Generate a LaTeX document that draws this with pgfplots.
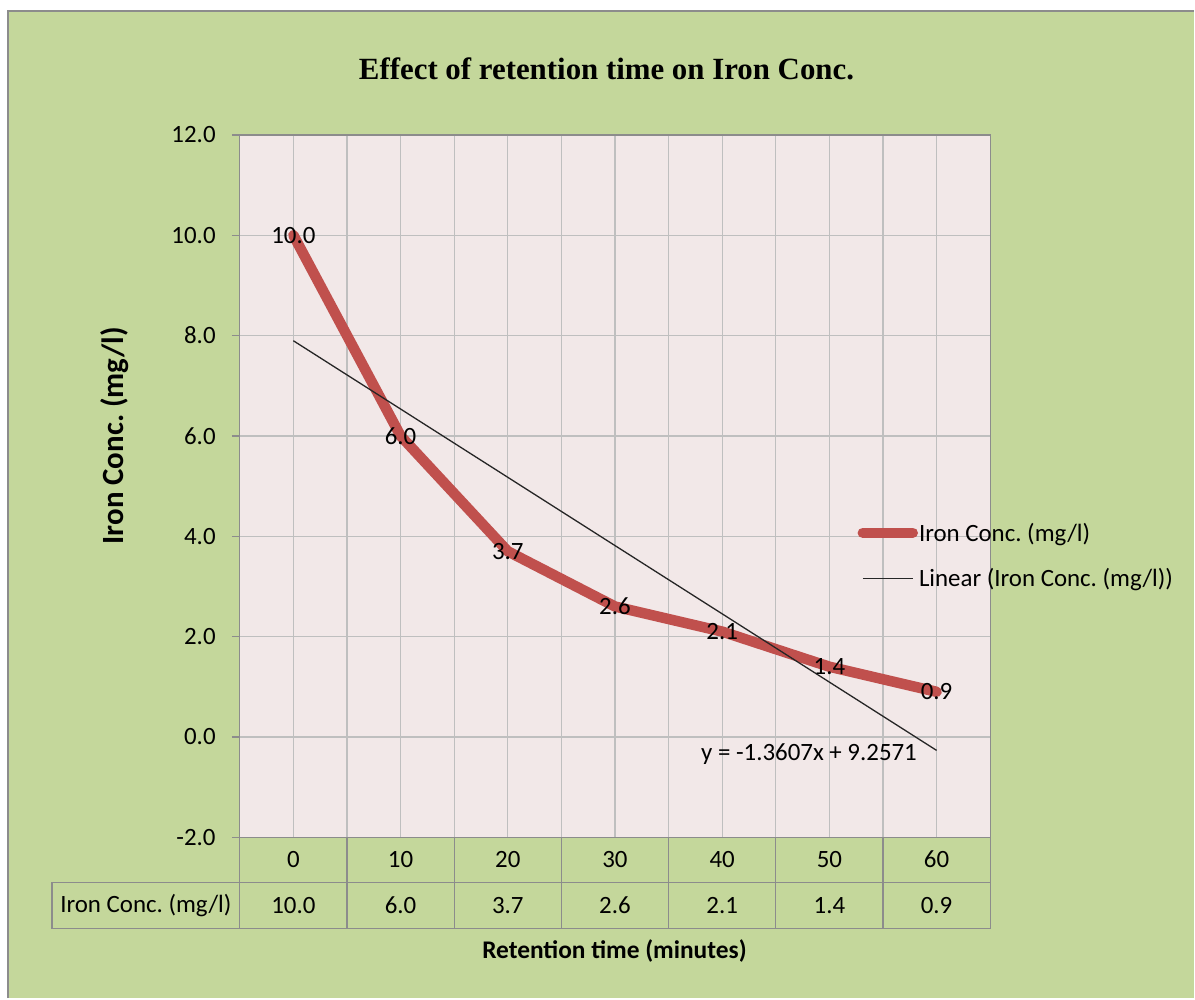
\documentclass[border=0pt]{standalone}
\usepackage{fontspec}
\setmainfont{Carlito}
\newfontfamily\titlefont{Liberation Serif}
\usepackage{pgfplots}
\pgfplotsset{compat=1.18}
\definecolor{bggreen}{HTML}{C4D79B}
\definecolor{plotpink}{HTML}{F2E8E8}
\definecolor{gridgray}{HTML}{BFBFBF}
\definecolor{linegray}{HTML}{8C8C8C}
\definecolor{exred}{HTML}{C0504D}
\newcommand\fs{\fontsize{25}{30}\selectfont}
\frenchspacing
\begin{document}
\begin{tikzpicture}[x=1bp,y=1bp]
\fill[white] (0,0) rectangle (1195,999);
\fill[bggreen] (8,0) rectangle (1195,987.5);
\draw[linegray, line width=2bp] (8,0) -- (8,987.5) -- (1195,987.5);
\begin{axis}[
  at={(240bp,161bp)}, anchor=south west,
  width=751bp, height=703bp, scale only axis,
  xmin=0.5, xmax=7.5, ymin=-2, ymax=12,
  axis background/.style={fill=plotpink},
  xtick={1,1.5,...,7.5}, xticklabels={},
  ytick={-2,0,...,12},
  ytick pos=left,
  xmajorgrids, ymajorgrids,
  grid style={gridgray, line width=1.3bp},
  x tick style={draw=none},
  y tick style={linegray, line width=1.3bp},
  tick align=outside, major tick length=8bp,
  axis line style={linegray, line width=1.3bp},
  /pgf/number format/assume math mode=true,
  yticklabel style={font=\fs, text=black, inner sep=0pt, xshift=-16bp,
    /pgf/number format/.cd, fixed, fixed zerofill, precision=1},
  clip=false,
  title={\titlefont\bfseries Effect of retention time on Iron Conc.},
  title style={at={(axis description cs:0.4887,1.0853)}, anchor=center,
    font=\fontsize{31}{36}\selectfont},
  ylabel={Iron Conc. (mg/l)},
  ylabel style={at={(axis description cs:-0.1664,0.5718)}, anchor=center,
    font=\bfseries\fontsize{31}{36}\selectfont},
  xlabel={Retention time (minutes)},
  xlabel style={at={(axis description cs:0.4993,-0.1622)}, anchor=center,
    font=\bfseries\fontsize{25.5}{30}\selectfont},
  legend style={at={(axis description cs:0.823,0.4010)}, anchor=west,
    draw=none, fill=none, font=\fs, row sep=24bp, inner sep=0pt,
    nodes={inner sep=1bp, text=black}},
  legend cell align=left,
  legend image code/.code={\draw[#1] (0bp,0bp) -- (50bp,0bp);},
]
\addplot[exred, line width=10.5bp, line join=round, line cap=round,
  nodes near coords,
  nodes near coords style={font=\fs, text=black, anchor=center,
    /pgf/number format/.cd, fixed, fixed zerofill, precision=1}]
  coordinates {(1,10.0) (2,6.0) (3,3.7) (4,2.6) (5,2.1) (6,1.4) (7,0.9)};
\addlegendentry{Iron Conc. (mg/l)}
\addplot[black!85, line width=1.3bp] coordinates {(1,7.8964) (7,-0.2678)};
\addlegendentry{Linear (Iron Conc. (mg/l))}
\node[font=\fs, text=black] at (axis cs:5.81,-0.34) {y = -1.3607x + 9.2571};
\end{axis}
% data table below the plot
\draw[linegray, line width=1.3bp] (240,161) -- (240,69.5);
\draw[linegray, line width=1.3bp] (52,116) -- (991,116);
\draw[linegray, line width=1.3bp] (52,69.5) -- (991,69.5);
\draw[linegray, line width=1.3bp] (52,116) -- (52,69.5);
\foreach \k in {1,...,7} {
  \draw[linegray, line width=1.3bp] ({240+107.286*\k},161) -- ({240+107.286*\k},69.5);
}
\foreach \lab [count=\k] in {0,10,20,30,40,50,60} {
  \node[font=\fs, text=black] at ({240+107.286*(\k-0.5)},139) {\lab};
}
\foreach \val [count=\k] in {10.0,6.0,3.7,2.6,2.1,1.4,0.9} {
  \node[font=\fs, text=black] at ({240+107.286*(\k-0.5)},93) {\val};
}
\node[font=\fs, text=black] at (146,93) {Iron Conc. (mg/l)};
\end{tikzpicture}
\end{document}
